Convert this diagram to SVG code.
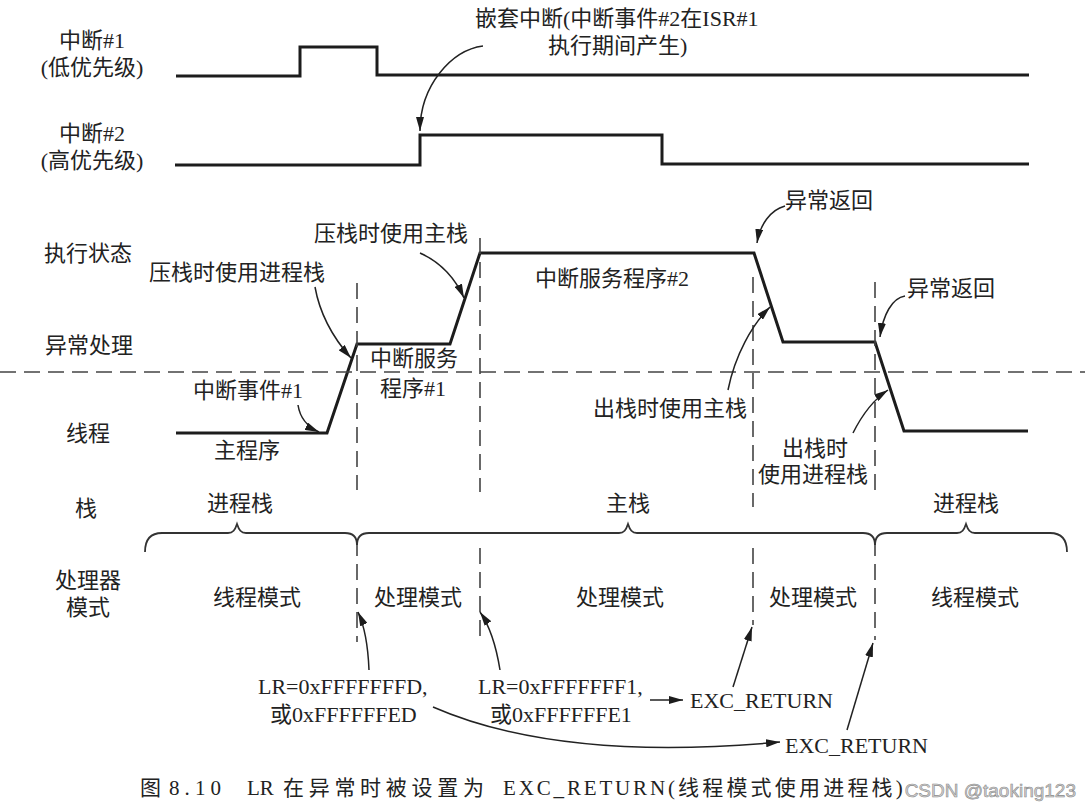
<svg xmlns="http://www.w3.org/2000/svg" width="1085" height="810" viewBox="0 0 1085 810">
<style>
.t{font-family:"Liberation Serif","Noto Sans CJK SC",serif;font-size:22px;fill:#222}
.m{text-anchor:middle}
.e{text-anchor:end}
.w{fill:none;stroke:#1c1c1c;stroke-width:3;stroke-linejoin:miter}
.d{fill:none;stroke:#444;stroke-width:1.6;stroke-dasharray:16 8}
.a{fill:none;stroke:#222;stroke-width:1.5;marker-end:url(#ah)}
.b{fill:none;stroke:#333;stroke-width:1.8}
.cap{font-family:"Liberation Serif","Noto Sans CJK SC",serif;font-size:21px;fill:#222}
.cj{letter-spacing:4.7px}
.cj2{letter-spacing:3.2px}
.wm{font-family:"Liberation Sans",sans-serif;font-size:19px;fill:#d4d4d4;stroke:#8a8a8a;stroke-width:0.6;text-anchor:end}
</style>
<defs>
<marker id="ah" viewBox="0 0 14 8" refX="14" refY="4" markerWidth="14" markerHeight="8" markerUnits="userSpaceOnUse" orient="auto">
<path d="M0,0 L14,4 L0,8 z" fill="#1c1c1c"/>
</marker>
</defs>
<rect width="1085" height="810" fill="#fff"/>

<g id="row-labels">
<text class="t m" x="92" y="48">中断#1</text>
<text class="t m" x="92" y="75">(低优先级)</text>
<text class="t m" x="92" y="141">中断#2</text>
<text class="t m" x="92" y="168">(高优先级)</text>
<text class="t m" x="88" y="261">执行状态</text>
<text class="t m" x="89" y="353">异常处理</text>
<text class="t m" x="88" y="441">线程</text>
<text class="t m" x="86" y="516">栈</text>
<text class="t m" x="88" y="588">处理器</text>
<text class="t m" x="88" y="615">模式</text>
</g>

<g id="irq1">
<path class="w" d="M176,76 L300,76 L300,47 L377,47 L377,75 L1029,75"/>
</g>
<g id="irq2">
<path class="w" d="M175,165 L420,165 L420,135 L662,135 L662,164 L1029,164"/>
</g>
<g id="nested-note">
<text class="t" x="475" y="26">嵌套中断(中断事件#2在ISR#1</text>
<text class="t" x="548" y="53">执行期间产生)</text>
</g>

<g id="exec-state">
<path class="w" d="M176,433 L327,433 L357,344 L450,344 L480,253 L754,253 L783,342 L875,342 L904,431 L1028,431"/>
</g>

<g id="grid">
<line class="d" x1="0" y1="372" x2="1085" y2="372"/>
<line class="d" x1="357" y1="283" x2="357" y2="490"/>
<line class="d" x1="357" y1="540" x2="357" y2="642"/>
<line class="d" x1="480" y1="238" x2="480" y2="492"/>
<line class="d" x1="480" y1="548" x2="480" y2="642"/>
<line class="d" x1="753" y1="277" x2="753" y2="507"/>
<line class="d" x1="753" y1="548" x2="753" y2="625"/>
<line class="d" x1="875" y1="282" x2="875" y2="490"/>
<line class="d" x1="875" y1="540" x2="875" y2="640"/>
</g>

<g id="state-labels">
<text class="t" x="314" y="241">压栈时使用主栈</text>
<text class="t e" x="325" y="280">压栈时使用进程栈</text>
<text class="t" x="193" y="398">中断事件#1</text>
<text class="t m" x="247" y="458">主程序</text>
<text class="t m" x="414" y="366">中断服务</text>
<text class="t m" x="413" y="396">程序#1</text>
<text class="t" x="535" y="286">中断服务程序#2</text>
<text class="t" x="785" y="208">异常返回</text>
<text class="t" x="907" y="296">异常返回</text>
<text class="t e" x="747" y="416">出栈时使用主栈</text>
<text class="t m" x="815" y="456">出栈时</text>
<text class="t m" x="813" y="482">使用进程栈</text>
</g>

<g id="stack-braces">
<path class="b" d="M145,552 C145,540 150,533 162,533 L228,533 C233,533 235,530 237,524 C239,530 241,533 246,533 L345,533 Q357,533 357,545"/>
<path class="b" d="M357,545 Q357,533 369,533 L619,533 C624,533 626,530 628,524 C630,530 632,533 637,533 L863,533 Q875,533 875,545"/>
<path class="b" d="M875,545 Q875,533 887,533 L957,533 C962,533 964,530 966,524 C968,530 970,533 975,533 L1050,533 C1062,533 1067,540 1067,552"/>
<text class="t m" x="240" y="511">进程栈</text>
<text class="t m" x="628" y="511">主栈</text>
<text class="t m" x="966" y="511">进程栈</text>
</g>

<g id="mode-labels">
<text class="t m" x="257" y="605">线程模式</text>
<text class="t m" x="418" y="605">处理模式</text>
<text class="t m" x="620" y="605">处理模式</text>
<text class="t m" x="813" y="605">处理模式</text>
<text class="t m" x="975" y="605">线程模式</text>
</g>

<g id="lr-labels">
<text class="t" x="258" y="694">LR=0xFFFFFFFD,</text>
<text class="t" x="270" y="722">或0xFFFFFFED</text>
<text class="t" x="478" y="694">LR=0xFFFFFFF1,</text>
<text class="t" x="490" y="722">或0xFFFFFFE1</text>
<text class="t" x="690" y="708">EXC_RETURN</text>
<text class="t" x="785" y="753">EXC_RETURN</text>
</g>

<g id="connectors">
<path class="a" d="M483,46 C452,50 420,85 420,131"/>
<path class="a" d="M315,287 C320,315 335,340 351,358"/>
<path class="a" d="M420,253 C440,262 455,278 464,298"/>
<path class="a" d="M298,405 C300,418 308,427 319,432"/>
<path class="a" d="M785,206 C770,210 760,225 757,243"/>
<path class="a" d="M905,296 C892,298 883,315 880,337"/>
<path class="a" d="M728,390 C735,355 752,325 770,307"/>
<path class="a" d="M853,433 C862,415 873,400 888,390"/>
<path class="a" d="M369,670 C368,645 364,625 358,612"/>
<path class="a" d="M500,670 C496,645 489,625 480,612"/>
<path class="a" d="M650,700 L683,700"/>
<path class="a" d="M733,687 L752,627"/>
<path class="a" d="M847,730 L873,643"/>
<path class="a" d="M433,707 C520,745 640,755 780,742"/>
</g>

<g id="caption">
<text class="cap" x="140" y="795">图</text>
<text class="cap" x="169" y="795" textLength="52" lengthAdjust="spacing">8.10</text>
<text class="cap" x="247" y="795">LR</text>
<text class="cap cj" x="283" y="795">在异常时被设置为</text>
<text class="cap" x="503" y="795" textLength="172" lengthAdjust="spacing">EXC_RETURN(</text>
<text class="cap cj2" x="678" y="795">线程模式使用进程栈)</text>
<text class="wm" x="1076" y="797">CSDN @taoking123</text>
</g>
</svg>
